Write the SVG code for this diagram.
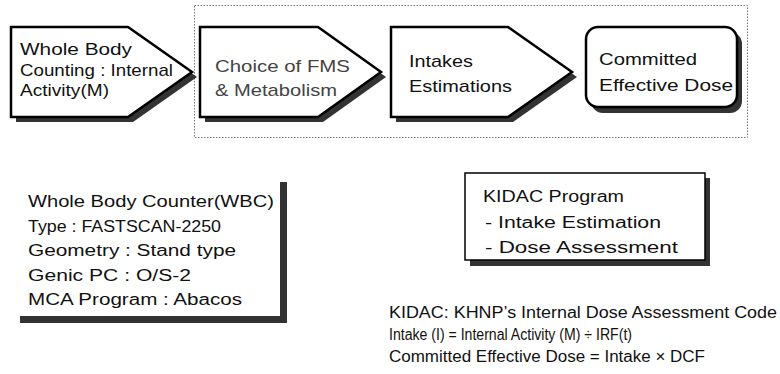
<svg xmlns="http://www.w3.org/2000/svg" width="780" height="374" viewBox="0 0 780 374">
<style>
.shape{fill:#fff;stroke:#000;stroke-width:2.5;stroke-linejoin:miter}
.shadow{fill:#333;stroke:none}
.t{font-family:"Liberation Sans",Arial,sans-serif;font-size:17px;fill:#111}
.g{fill:#444}
.s{font-family:"Liberation Sans",Arial,sans-serif;font-size:16px;fill:#111}
</style>
<rect x="194.5" y="5.5" width="553" height="132" fill="none" stroke="#777" stroke-width="1" stroke-dasharray="1.5,1.5"/>
<g id="node-wbc-counting">
<polygon class="shadow" points="16,32 133,32 197,77 133,122 16,122"/>
<polygon class="shape" points="11,27 128,27 192,72 128,117 11,117"/>
<text class="t" x="20" y="55" textLength="112" lengthAdjust="spacingAndGlyphs">Whole Body</text>
<text class="t" x="20" y="76" textLength="153" lengthAdjust="spacingAndGlyphs">Counting : Internal</text>
<text class="t" x="20" y="96" textLength="89" lengthAdjust="spacingAndGlyphs">Activity(M)</text>
</g>
<g id="node-fms">
<polygon class="shadow" points="205,32 323,32 386,77 323,122 205,122"/>
<polygon class="shape" points="200,27 318,27 381,72 318,117 200,117"/>
<text class="t g" x="215" y="72" textLength="135" lengthAdjust="spacingAndGlyphs">Choice of FMS</text>
<text class="t g" x="215" y="96" textLength="122" lengthAdjust="spacingAndGlyphs">&amp; Metabolism</text>
</g>
<g id="node-intakes">
<polygon class="shadow" points="396,32 513,32 577,77 513,122 396,122"/>
<polygon class="shape" points="391,27 508,27 572,72 508,117 391,117"/>
<text class="t" x="409" y="67" textLength="64" lengthAdjust="spacingAndGlyphs">Intakes</text>
<text class="t" x="409" y="92" textLength="103" lengthAdjust="spacingAndGlyphs">Estimations</text>
</g>
<g id="node-dose">
<rect class="shadow" x="591" y="32" width="151" height="81" rx="12"/>
<rect class="shape" x="586" y="27" width="151" height="80" rx="12"/>
<text class="t" x="599" y="65" textLength="98" lengthAdjust="spacingAndGlyphs">Committed</text>
<text class="t" x="599" y="91" textLength="134" lengthAdjust="spacingAndGlyphs">Effective Dose</text>
</g>
<g id="node-wbc-info">
<rect class="shadow" x="20" y="182" width="267" height="141"/>
<rect x="13" y="175" width="267" height="141" fill="#fff"/>
<text class="s" x="28" y="207" textLength="246" lengthAdjust="spacingAndGlyphs">Whole Body Counter(WBC)</text>
<text class="s" x="28" y="232" textLength="193" lengthAdjust="spacingAndGlyphs">Type : FASTSCAN-2250</text>
<text class="s" x="28" y="256" textLength="208" lengthAdjust="spacingAndGlyphs">Geometry : Stand type</text>
<text class="s" x="28" y="281" textLength="163" lengthAdjust="spacingAndGlyphs">Genic PC : O/S-2</text>
<text class="s" x="28" y="305" textLength="214" lengthAdjust="spacingAndGlyphs">MCA Program : Abacos</text>
</g>
<g id="node-kidac">
<rect class="shadow" x="470" y="178" width="240" height="88"/>
<rect x="465" y="173" width="240" height="87" fill="#fff" stroke="#000" stroke-width="1.5"/>
<text class="s" x="483" y="202" textLength="141" lengthAdjust="spacingAndGlyphs">KIDAC Program</text>
<text class="s" x="485" y="228" textLength="176" lengthAdjust="spacingAndGlyphs">- Intake Estimation</text>
<text class="s" x="485" y="253" textLength="193" lengthAdjust="spacingAndGlyphs">- Dose Assessment</text>
</g>
<g id="notes">
<text class="s" x="389" y="318" textLength="388" lengthAdjust="spacingAndGlyphs">KIDAC: KHNP’s Internal Dose Assessment Code</text>
<text class="s" x="389" y="340" textLength="243" lengthAdjust="spacingAndGlyphs">Intake (I) = Internal Activity (M) ÷ IRF(t)</text>
<text class="s" x="389" y="362" textLength="316" lengthAdjust="spacingAndGlyphs">Committed Effective Dose = Intake × DCF</text>
</g>
<g id="connectors"></g>
</svg>
